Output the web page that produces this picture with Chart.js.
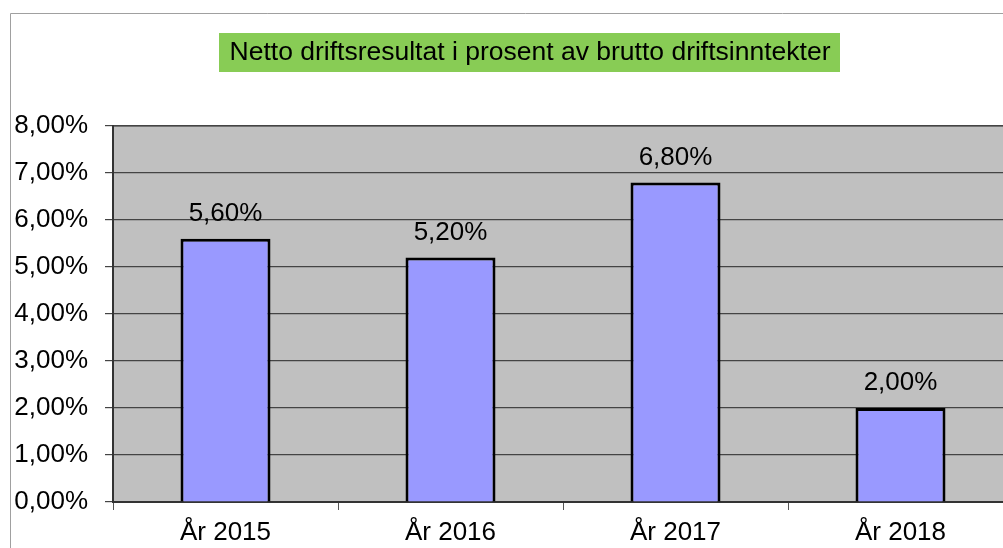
<!DOCTYPE html>
<html>
<head>
<meta charset="utf-8">
<script src="https://cdn.jsdelivr.net/npm/chart.js@4/dist/chart.umd.min.js"></script>
<style>
  html, body { margin: 0; padding: 0; background: #fff; overflow: hidden; }
  #wrap { width: 1003px; height: 548px; overflow: hidden; position: relative; }
  canvas { display: block; }
</style>
</head>
<body>
<div id="wrap"><canvas id="chart" width="1040" height="548"></canvas></div>
<script>
// chart data
const titleText = 'Netto driftsresultat i prosent av brutto driftsinntekter';
const years = ['År 2015', 'År 2016', 'År 2017', 'År 2018'];
const percentValues = [5.6, 5.2, 6.8, 2.0];
const yTicks = [0, 1, 2, 3, 4, 5, 6, 7, 8];

const FONT = '"Liberation Sans", Arial, sans-serif';

function pct(v) {
    return v.toFixed(2).replace('.', ',') + '%';
}

// frame, green title box and gray plot background
const backgroundPlugin = {
    id: 'backgroundPlugin',
    beforeDraw(chart) {
        const ctx = chart.ctx;
        const a = chart.chartArea;
        ctx.save();
        // outer frame
        ctx.strokeStyle = '#a0a0a0';
        ctx.lineWidth = 1;
        ctx.beginPath();
        ctx.moveTo(10.5, 548);
        ctx.lineTo(10.5, 13.5);
        ctx.lineTo(1040, 13.5);
        ctx.stroke();
        // plot background
        ctx.fillStyle = '#c0c0c0';
        ctx.fillRect(a.left, a.top, a.right - a.left, a.bottom - a.top);
        // top edge of the plot area
        ctx.strokeStyle = '#808080';
        ctx.lineWidth = 2;
        ctx.beginPath();
        ctx.moveTo(a.left, a.top);
        ctx.lineTo(a.right, a.top);
        ctx.stroke();
        // title box
        ctx.fillStyle = '#88cc55';
        ctx.fillRect(219, 33, 621, 39);
        ctx.fillStyle = '#000';
        ctx.font = '26.5px ' + FONT;
        ctx.textAlign = 'center';
        ctx.textBaseline = 'middle';
        ctx.fillText(titleText, 530, 53);
        ctx.restore();
    }
};

// value labels above the bars
const valueLabels = {
    id: 'valueLabels',
    afterDatasetsDraw(chart) {
        const ctx = chart.ctx;
        const meta = chart.getDatasetMeta(0);
        ctx.save();
        ctx.fillStyle = '#000';
        ctx.font = '26px ' + FONT;
        ctx.textAlign = 'center';
        ctx.textBaseline = 'middle';
        meta.data.forEach((bar, i) => {
            ctx.fillText(pct(percentValues[i]), bar.x, bar.y - 25);
        });
        ctx.restore();
    }
};

new Chart(document.getElementById('chart'), {
    type: 'bar',
    data: {
        labels: years,
        datasets: [{
            data: percentValues,
            backgroundColor: '#9999ff',
            borderColor: '#000',
            borderWidth: 3,
            categoryPercentage: 0.4,
            barPercentage: 1.0
        }]
    },
    options: {
        responsive: false,
        animation: false,
        layout: { padding: { left: 0, top: 126, right: 27, bottom: 0 } },
        plugins: {
            legend: { display: false },
            title: { display: false },
            tooltip: { enabled: false }
        },
        scales: {
            x: {
                offset: true,
                grid: {
                    offset: true,
                    drawOnChartArea: false,
                    drawTicks: true,
                    tickLength: 8,
                    color: '#555'
                },
                border: { color: '#333', width: 2 },
                ticks: {
                    color: '#000',
                    font: { family: FONT, size: 26 },
                    padding: 7,
                    maxRotation: 0
                },
                afterFit(scale) { scale.height = 46; }
            },
            y: {
                min: 0,
                max: 8,
                afterBuildTicks(scale) {
                    scale.ticks = yTicks.map(v => ({ value: v }));
                },
                grid: {
                    color: '#444',
                    lineWidth: 1.2,
                    tickLength: 8
                },
                border: { color: '#333', width: 2 },
                ticks: {
                    color: '#000',
                    font: { family: FONT, size: 26 },
                    padding: 17,
                    callback: v => pct(v)
                },
                afterFit(scale) { scale.width = 113; }
            }
        }
    },
    plugins: [backgroundPlugin, valueLabels]
});
</script>
</body>
</html>
